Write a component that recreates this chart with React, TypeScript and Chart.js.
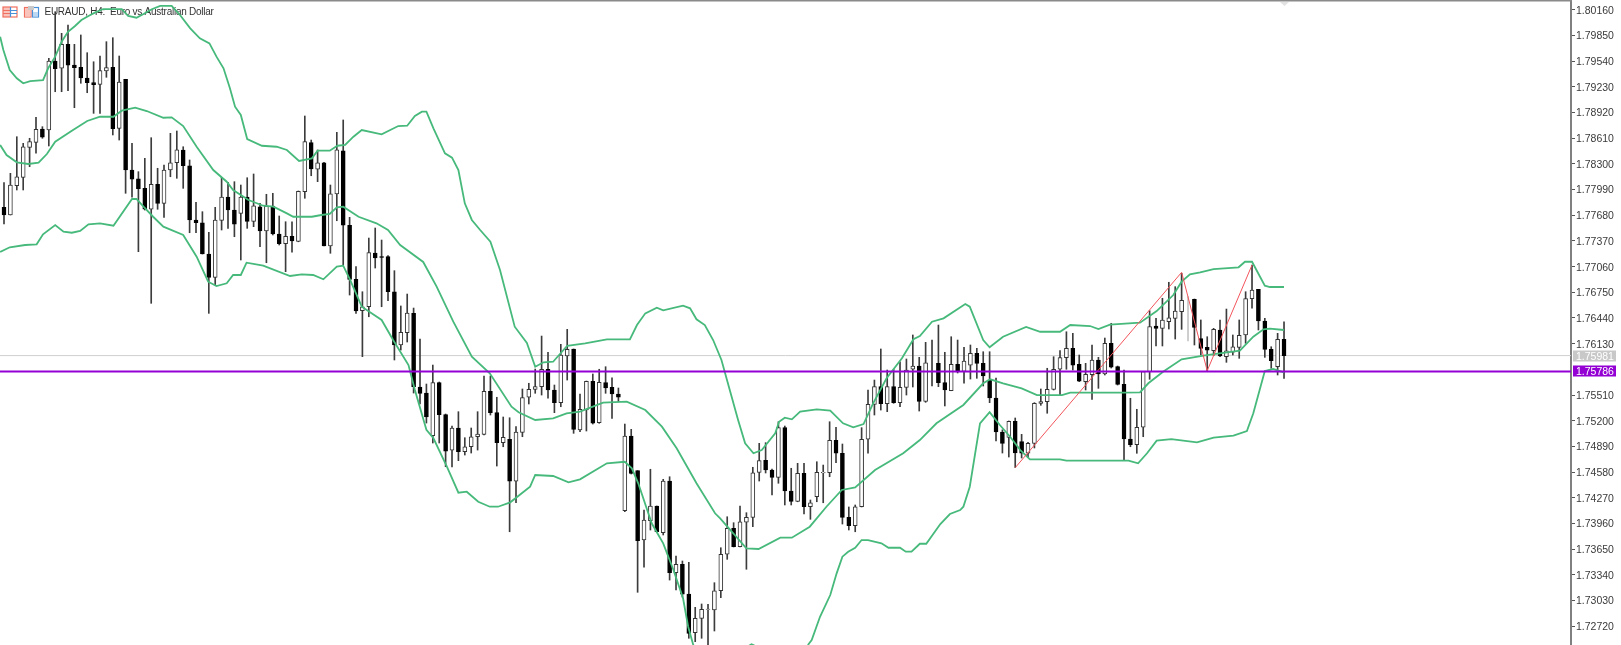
import React, { useEffect, useRef } from "react";
import { Chart, registerables } from "chart.js";

Chart.register(...registerables);

const opens = [1.77776,1.77683,1.78037,1.78138,1.785,1.7856,1.78721,1.78709,1.79542,1.79454,1.79743,1.79493,1.79466,1.79337,1.7928,1.7926,1.79421,1.79466,1.78729,1.79321,1.78226,1.78121,1.78005,1.77752,1.78054,1.77824,1.78226,1.78314,1.78468,1.78278,1.77623,1.7759,1.77212,1.76931,1.77619,1.779,1.77743,1.77703,1.779,1.77607,1.77783,1.7749,1.77792,1.77454,1.77337,1.77426,1.77365,1.77964,1.78556,1.78235,1.78314,1.77309,1.77936,1.78459,1.77559,1.76907,1.76528,1.76576,1.77224,1.7718,1.7718,1.76757,1.76114,1.76262,1.76496,1.75607,1.75534,1.75019,1.75659,1.75273,1.74846,1.75112,1.74826,1.74886,1.75007,1.75036,1.75555,1.75297,1.74935,1.74976,1.74469,1.7506,1.75483,1.75579,1.75611,1.75821,1.75571,1.75418,1.75981,1.76066,1.75088,1.75329,1.75676,1.75176,1.75659,1.75603,1.75522,1.74114,1.75015,1.74597,1.7376,1.73993,1.74171,1.73848,1.74472,1.73366,1.73467,1.73108,1.72641,1.72815,1.72921,1.72915,1.73148,1.73588,1.73901,1.73679,1.73977,1.74034,1.74575,1.74722,1.74605,1.74517,1.75116,1.74352,1.74227,1.74565,1.74162,1.74283,1.74569,1.74572,1.74964,1.74807,1.74034,1.73933,1.74162,1.74976,1.75398,1.75611,1.75405,1.75611,1.75418,1.75603,1.75821,1.7586,1.75434,1.759,1.75893,1.75659,1.75562,1.75881,1.75796,1.75872,1.76014,1.75893,1.75691,1.75474,1.75064,1.74997,1.75193,1.74947,1.74807,1.74927,1.75408,1.7543,1.75577,1.75821,1.75961,1.76074,1.75881,1.75671,1.75756,1.75933,1.75764,1.76134,1.75852,1.75639,1.74979,1.7491,1.75121,1.75792,1.76343,1.76315,1.76395,1.76436,1.76516,1.7641,1.76665,1.7619,1.76086,1.76045,1.76295,1.75973,1.76026,1.76086,1.76235,1.76673,1.76786,1.76404,1.76062,1.75852,1.76183];
const highs = [1.78073,1.78186,1.78628,1.78548,1.78609,1.78862,1.78749,1.79574,1.80137,1.79876,1.79976,1.79743,1.79856,1.79642,1.79533,1.79602,1.79775,1.79823,1.79602,1.79321,1.78548,1.78206,1.78367,1.78616,1.78247,1.78286,1.78669,1.78697,1.78507,1.78347,1.77836,1.77723,1.77474,1.77776,1.78138,1.78078,1.78085,1.78045,1.78133,1.78178,1.77824,1.77933,1.77945,1.77671,1.77602,1.77602,1.77973,1.78878,1.78588,1.78468,1.78319,1.78045,1.78681,1.7883,1.77655,1.77059,1.76757,1.77405,1.77526,1.77381,1.77194,1.77011,1.76585,1.76729,1.7656,1.76186,1.75643,1.75872,1.75667,1.75281,1.75136,1.75309,1.74995,1.75112,1.75309,1.7574,1.7574,1.75483,1.75245,1.75236,1.75128,1.75583,1.75652,1.75824,1.76222,1.76026,1.75631,1.76122,1.76303,1.76066,1.75522,1.75679,1.75764,1.75821,1.75852,1.75719,1.75595,1.7516,1.75096,1.74597,1.74122,1.74614,1.74171,1.74493,1.74524,1.73567,1.73507,1.73491,1.72948,1.72988,1.72984,1.73245,1.73667,1.74041,1.73969,1.74171,1.7409,1.74638,1.74927,1.74935,1.74617,1.75188,1.75136,1.74626,1.74686,1.74686,1.74243,1.74705,1.74665,1.75188,1.7512,1.74919,1.74159,1.74183,1.75116,1.75571,1.75691,1.76066,1.75812,1.75821,1.75912,1.75945,1.76235,1.75965,1.76146,1.76174,1.76355,1.76026,1.76214,1.76174,1.76086,1.76114,1.76074,1.76033,1.76033,1.75716,1.7509,1.75197,1.75233,1.75036,1.74939,1.75418,1.75583,1.75833,1.75973,1.76047,1.76274,1.76255,1.75993,1.75893,1.76114,1.75965,1.76198,1.76376,1.7586,1.75812,1.75471,1.75338,1.75794,1.76528,1.76436,1.76678,1.76871,1.76818,1.76979,1.76697,1.76669,1.76416,1.76214,1.76315,1.76416,1.76548,1.76235,1.76416,1.76757,1.77079,1.76786,1.76436,1.76093,1.76255,1.76395];
const lows = [1.77574,1.77683,1.77985,1.77985,1.78266,1.78428,1.78609,1.78516,1.79171,1.79171,1.79183,1.78978,1.79273,1.79159,1.7891,1.7891,1.79345,1.78649,1.78588,1.77945,1.77897,1.7724,1.77743,1.76617,1.77752,1.77655,1.78145,1.78126,1.78005,1.77469,1.77469,1.77212,1.76496,1.76838,1.77502,1.77522,1.77421,1.7714,1.77522,1.77542,1.773,1.77107,1.77442,1.77321,1.76999,1.77233,1.7736,1.77885,1.78157,1.78085,1.77309,1.77221,1.77614,1.77079,1.76717,1.76496,1.75973,1.76455,1.77043,1.76576,1.76649,1.75933,1.76053,1.7615,1.75534,1.75402,1.75172,1.74931,1.74931,1.74645,1.74641,1.74718,1.74786,1.7481,1.74846,1.75028,1.75269,1.74653,1.74886,1.7386,1.7421,1.75007,1.75402,1.75531,1.7551,1.75471,1.75297,1.75369,1.75691,1.75048,1.75068,1.75076,1.7516,1.75169,1.75531,1.75229,1.7543,1.74102,1.74557,1.73129,1.73431,1.73881,1.7386,1.73821,1.73277,1.73157,1.73072,1.72574,1.72533,1.72574,1.72432,1.72662,1.73064,1.73527,1.73676,1.73676,1.73407,1.73921,1.74472,1.74569,1.74303,1.74445,1.74183,1.74183,1.74222,1.74074,1.7401,1.74222,1.7421,1.74524,1.74693,1.73953,1.73881,1.7386,1.74159,1.74807,1.75269,1.75329,1.75309,1.7541,1.75369,1.7551,1.75607,1.75317,1.75422,1.75619,1.75611,1.75378,1.75562,1.75776,1.75652,1.75703,1.75712,1.75619,1.75418,1.74955,1.7481,1.74762,1.74635,1.7475,1.74758,1.74871,1.75386,1.7529,1.75571,1.7551,1.75821,1.75812,1.75671,1.75571,1.75458,1.75591,1.75752,1.75836,1.75631,1.74726,1.74886,1.74807,1.75007,1.757,1.76102,1.76102,1.76307,1.76186,1.76303,1.76162,1.76114,1.75993,1.75804,1.75985,1.75973,1.75905,1.75993,1.75953,1.76134,1.76557,1.76295,1.75965,1.75833,1.75752,1.75712];
const closes = [1.77683,1.78045,1.78145,1.78507,1.78568,1.78717,1.78621,1.79542,1.79449,1.79743,1.7949,1.79461,1.79337,1.7928,1.79256,1.79425,1.79461,1.78725,1.79288,1.78226,1.78117,1.78,1.77752,1.78054,1.77824,1.78226,1.78314,1.78471,1.78278,1.77623,1.7759,1.77212,1.76931,1.77623,1.779,1.77743,1.77571,1.779,1.77607,1.77795,1.7749,1.77792,1.77454,1.77337,1.77426,1.77369,1.77969,1.78568,1.78238,1.78314,1.77309,1.7794,1.78471,1.77559,1.76907,1.76524,1.76576,1.77228,1.77164,1.7717,1.76757,1.76114,1.76267,1.765,1.75611,1.75531,1.75245,1.75659,1.75273,1.74834,1.75112,1.74826,1.74886,1.75007,1.7504,1.75555,1.75297,1.74935,1.75,1.74469,1.75064,1.75478,1.75579,1.75611,1.75821,1.75571,1.75418,1.75993,1.76062,1.75096,1.75338,1.75676,1.75169,1.75664,1.75595,1.75522,1.75483,1.75015,1.74565,1.73752,1.74002,1.74171,1.7386,1.74472,1.73366,1.73467,1.73108,1.72634,1.72815,1.72924,1.72927,1.73148,1.73588,1.73901,1.73679,1.73981,1.74034,1.74572,1.7472,1.74605,1.74517,1.75116,1.74352,1.74227,1.74565,1.74162,1.7421,1.74577,1.74577,1.74964,1.74807,1.74034,1.73933,1.74162,1.74976,1.75398,1.75611,1.75405,1.75611,1.75418,1.75603,1.75812,1.7586,1.75434,1.759,1.759,1.75659,1.75571,1.75881,1.75796,1.75921,1.76014,1.75893,1.7574,1.75474,1.75064,1.74927,1.75193,1.7481,1.74807,1.74927,1.7541,1.75432,1.7558,1.75821,1.75961,1.76074,1.75872,1.75676,1.7576,1.75933,1.75764,1.76134,1.75845,1.75639,1.74979,1.7491,1.75121,1.75792,1.76335,1.76315,1.76416,1.76443,1.76524,1.76653,1.7641,1.76327,1.76074,1.76053,1.76303,1.75981,1.76045,1.76093,1.76231,1.76673,1.76778,1.76404,1.76062,1.75924,1.76183,1.75985];

const upperAt = [-0.6,-0.1,0.9,2,3,4.1,6.1,6.9,8,9,10,11.1,12.1,13.2,14.2,15.5,18.4,19.4,20.7,21.8,23.1,24.4,26.2,27.5,29.1,30.6,32.1,33.2,34.3,35.3,36.1,37,38,40.3,42.6,44.2,46.1,48.1,49,50.9,52.1,53.3,54.6,55.9,59,61.6,63,64.2,65.3,66,67.1,68.9,70,71,72,73.1,74.4,76,77.5,79.8,81.7,83,84.3,85.8,88,90.8,94.2,97.8,98.9,100.2,102,103,106.1,107.2,108.2,109.5,110.8,112.1,113.4,114.7,115.8,117.1,118.4,120.5,121.1,122,123.1,124.4,127,129.1,131.1,132.7,134.3,135.8,137.9,140.3,142.1,143.1,145,146.8,150.2,150.9,153,154,156.1,159.7,161.9,165,166.6,169.7,171,172.8,177.5,180.1,182.7,184,185.3,186.9,189,192.9,193.9,195,197,197.8,200];
const upperBand = [1.79835,1.79674,1.79433,1.79333,1.79273,1.793,1.79312,1.79454,1.79594,1.79775,1.79895,1.79964,1.80037,1.80085,1.80125,1.80169,1.80169,1.80085,1.80064,1.80109,1.80166,1.80206,1.80206,1.80097,1.79936,1.79816,1.79755,1.79594,1.79454,1.79212,1.7899,1.7889,1.786,1.78519,1.78507,1.78468,1.78335,1.78367,1.78459,1.78459,1.78519,1.78528,1.78628,1.78709,1.78657,1.78757,1.78761,1.78878,1.7893,1.7893,1.78729,1.78428,1.78375,1.78226,1.77824,1.77623,1.77502,1.77361,1.77019,1.76335,1.76138,1.75852,1.75905,1.75912,1.76105,1.76134,1.76183,1.76183,1.76355,1.76496,1.76564,1.76533,1.76588,1.76557,1.76424,1.76355,1.76174,1.75933,1.75571,1.75209,1.74927,1.74807,1.74846,1.75048,1.75188,1.75236,1.75217,1.75309,1.75338,1.75321,1.75169,1.7512,1.7516,1.7541,1.75712,1.75953,1.76183,1.76222,1.76395,1.76436,1.76609,1.76576,1.76174,1.76086,1.76214,1.76331,1.76274,1.76274,1.76355,1.76343,1.76307,1.76359,1.76383,1.76524,1.76717,1.76878,1.76967,1.76991,1.77031,1.77052,1.77119,1.77119,1.7683,1.76814,1.76814];

const middleAt = [-0.6,0.4,2,3.8,5.4,6.7,8,10.6,13,15,17.1,18.4,20.5,22.3,24.9,26.2,28,30.1,32.7,34.8,35.8,38.2,40.5,42.1,44.2,45.2,48.1,49.6,50.9,52,53,55.4,58.2,60,61.9,65.5,67.6,70.2,73.1,75.9,79.3,80.4,83,85.8,87.9,90,93.6,97.3,100.2,102.8,105.1,108.2,111.1,111.9,116,117.9,121.3,123.1,125.9,128.5,130.9,133,136.1,140.5,143.1,145.7,149.9,153,154.1,156.1,159,161.4,165.3,166.6,174.8,177.5,178.8,181.1,184,187.9,193.1,195.2,196.8,197.8,200];
const middleBand = [1.78528,1.78407,1.78319,1.78299,1.78314,1.78419,1.78568,1.787,1.78818,1.78869,1.78869,1.78942,1.78978,1.78938,1.78857,1.78862,1.78757,1.78507,1.78226,1.78085,1.77985,1.77864,1.77795,1.77783,1.77703,1.77662,1.77662,1.77683,1.77695,1.77776,1.77783,1.77662,1.77583,1.77502,1.77321,1.77116,1.76818,1.76395,1.75973,1.75772,1.75369,1.75302,1.75209,1.75229,1.75289,1.75309,1.75418,1.7543,1.75329,1.75128,1.74867,1.74445,1.74083,1.74022,1.7366,1.73652,1.73788,1.73788,1.73921,1.74162,1.74364,1.74396,1.74605,1.74807,1.74967,1.75169,1.7539,1.75652,1.757,1.75652,1.75591,1.7551,1.7551,1.75538,1.75538,1.75543,1.75652,1.75792,1.75941,1.75993,1.76045,1.76214,1.76303,1.76311,1.76295];

const lowerAt = [-0.6,0.9,3.3,5.1,6.1,8,9.3,10.6,11.9,13.2,15,17.1,20,20.7,21.8,23.3,24.9,28,30.1,31.9,33.2,34.8,35.8,37,37.9,40.5,44.7,46.5,48.3,49.9,52,53,54.1,55.9,59,60.8,63.2,64.2,66,67.1,69.2,71,72.3,74.1,75.9,77.2,79.1,82.2,83,85.8,88.2,90,94.2,97,98.1,99.1,101.2,103,104.6,106.1,106.9,107.7,109.5,111.9,114.2,115.8,116.8,118.1,120.5,122.8,125.2,125.7,126.2,127.5,129.1,130.1,131,131.9,133,134,135,137.1,138.2,140,140.9,141.8,143.1,144.1,146.3,147.8,149.4,149.9,150.9,152.5,154,155.6,157.2,158.8,160.3,165,166,175.7,177.2,178.6,180.1,182.4,186.4,189,192.1,194.2,195.2,197,198.3,200];
const lowerBand = [1.77236,1.77293,1.77321,1.77329,1.7745,1.77562,1.77481,1.77469,1.7749,1.77571,1.77583,1.77554,1.77876,1.77876,1.77783,1.77662,1.77542,1.77442,1.7718,1.76878,1.76826,1.76859,1.76959,1.76959,1.77107,1.77071,1.76947,1.76967,1.76959,1.76907,1.77059,1.77071,1.76898,1.76576,1.76416,1.76174,1.75872,1.75571,1.7509,1.74988,1.74645,1.74331,1.74343,1.74222,1.74162,1.74162,1.74215,1.74404,1.74545,1.74533,1.74457,1.74493,1.74686,1.74705,1.74625,1.74445,1.73962,1.7372,1.73398,1.73057,1.72714,1.72493,1.72215,1.72095,1.72312,1.72457,1.72501,1.72457,1.72251,1.72251,1.72432,1.72501,1.72553,1.72834,1.73096,1.73358,1.73559,1.73619,1.73667,1.7376,1.7376,1.7372,1.73667,1.73667,1.73619,1.73619,1.73715,1.73715,1.73953,1.74074,1.74122,1.74162,1.74404,1.75169,1.75302,1.75148,1.75007,1.74846,1.74734,1.74734,1.74718,1.74718,1.74686,1.74807,1.74959,1.74979,1.74939,1.74995,1.75019,1.75076,1.7529,1.758,1.75824,1.75784];

const zigzagAt = [158, 184, 188, 195];
const zigzagPrice = [1.74633, 1.76991, 1.75804, 1.77079];

const bidLevel = 1.75986;
const bidLabel = "1.75981";
const markedLevel = 1.75795;
const markedLabel = "1.75786";
const fadedCandles = [185];
const yTicks = [1.8016,1.7985,1.7954,1.7923,1.7892,1.7861,1.783,1.7799,1.7768,1.7737,1.7706,1.7675,1.7644,1.7613,1.7551,1.752,1.7489,1.7458,1.7427,1.7396,1.7365,1.7334,1.7303,1.7272];
const headerText = "EURAUD, H4:  Euro vs Australian Dollar";

const X_MIN = -0.625;
const X_MAX = 244.84;
const Y_MIN = 1.72493;
const Y_MAX = 1.80266;
const GREEN = "#46b97b";
const VIOLET = "#9400d3";
const AXIS_FONT = "10.5px 'Liberation Sans', sans-serif";

const zipPts = (xs: number[], ys: number[]) => xs.map((x, i) => ({ x, y: ys[i] }));

const chromePlugin = {
  id: "chrome",
  beforeDatasetsDraw(chart: any) {
    const c = chart.ctx;
    c.save();
    c.fillStyle = "#8a8a8a";
    c.fillRect(0, 0, chart.chartArea.right + 1, 1.5);
    c.fillStyle = "#e2e2e2";
    c.beginPath();
    c.moveTo(1280, 2);
    c.lineTo(1289, 2);
    c.lineTo(1284.5, 6);
    c.closePath();
    c.fill();
    // table icon
    c.lineWidth = 1.2;
    c.strokeStyle = "#f0705f";
    c.fillStyle = "#f9c4bc";
    c.fillRect(3, 7, 8, 10);
    c.strokeRect(3, 7, 14, 10);
    c.beginPath();
    for (const y of [10.5, 13.5]) { c.moveTo(3, y); c.lineTo(10, y); }
    c.stroke();
    c.strokeStyle = "#4a90d9";
    c.beginPath();
    c.moveTo(10.5, 7); c.lineTo(10.5, 17);
    for (const y of [10.5, 13.5]) { c.moveTo(10.5, y); c.lineTo(17, y); }
    c.stroke();
    // terminal icon
    c.strokeStyle = "#f0705f";
    c.strokeRect(24.5, 7.5, 6.5, 9.5);
    c.strokeStyle = "#4a90d9";
    c.strokeRect(32.5, 7.5, 6, 9.5);
    c.fillStyle = "#f9c4bc";
    c.fillRect(25, 8, 5.5, 8.5);
    c.fillStyle = "#bcd8f2";
    c.fillRect(33, 12, 5, 4.5);
    c.fillStyle = "#c9c9c9";
    c.fillRect(28, 6, 6, 4);
    // header
    c.fillStyle = "#333";
    c.font = "10px 'Liberation Sans', sans-serif";
    (c as any).letterSpacing = "-0.26px";
    c.textBaseline = "middle";
    c.textAlign = "left";
    c.fillText(headerText, 44.5, 12.5);
    (c as any).letterSpacing = "0px";
    c.restore();
  },
  afterDraw(chart: any) {
    const c = chart.ctx;
    const s = chart.scales.y;
    const tag = (v: number, text: string, bg: string) => {
      const y = s.getPixelForValue(v);
      c.fillStyle = bg;
      c.fillRect(1573, Math.round(y) - 5.5, 43, 11);
      c.fillStyle = "#fff";
      c.font = AXIS_FONT;
      c.textBaseline = "middle";
      c.textAlign = "left";
      c.fillText(text, 1576, Math.round(y) + 1);
    };
    c.save();
    tag(bidLevel, bidLabel, "#c8c8c8");
    tag(markedLevel, markedLabel, VIOLET);
    c.restore();
  },
};

export default function App() {
  const ref = useRef<HTMLCanvasElement>(null);
  useEffect(() => {
    const candleIdx = opens.map((_, i) => i);
    const hLine = (v: number) => [{ x: X_MIN, y: v }, { x: X_MAX, y: v }];
    const bandSet = (xs: number[], ys: number[]) => ({
      type: "line",
      data: zipPts(xs, ys),
      borderColor: GREEN,
      borderWidth: 1.8,
      pointRadius: 0,
      tension: 0,
      order: 3,
    });
    const chart = new Chart(ref.current as HTMLCanvasElement, {
      type: "bar",
      data: {
        datasets: [
          {
            type: "bar",
            data: candleIdx.map(i => ({ x: i, y: [lows[i], highs[i]] })),
            backgroundColor: candleIdx.map(i => (fadedCandles.includes(i) ? "#c4c4c4" : "#3c3c3c")),
            barThickness: 1,
            grouped: false,
            order: 6,
          },
          {
            type: "bar",
            data: candleIdx.map(i => ({ x: i, y: [opens[i], closes[i]] })),
            backgroundColor: candleIdx.map(i => (closes[i] >= opens[i] ? "#fff" : "#000")),
            borderColor: candleIdx.map(i => (closes[i] >= opens[i] ? "#333" : "#000")),
            borderWidth: 1,
            borderSkipped: false,
            barThickness: 4,
            grouped: false,
            order: 5,
          },
          {
            type: "line",
            data: hLine(bidLevel),
            borderColor: "#cfcfcf",
            borderWidth: 1,
            pointRadius: 0,
            order: 7,
          },
          bandSet(upperAt, upperBand),
          bandSet(middleAt, middleBand),
          bandSet(lowerAt, lowerBand),
          {
            type: "line",
            data: zipPts(zigzagAt, zigzagPrice),
            borderColor: "#f2545b",
            borderWidth: 1,
            pointRadius: 0,
            tension: 0,
            order: 2,
          },
          {
            type: "line",
            data: hLine(markedLevel),
            borderColor: VIOLET,
            borderWidth: 2,
            pointRadius: 0,
            order: 1,
          },
        ],
      } as any,
      options: {
        animation: false,
        responsive: false,
        devicePixelRatio: 1,
        layout: { padding: { top: 1, left: 0, right: 0, bottom: 0 } },
        plugins: { legend: { display: false }, tooltip: { enabled: false } },
        scales: {
          x: {
            type: "linear",
            display: false,
            offset: false,
            min: X_MIN,
            max: X_MAX,
            grid: { display: false, offset: false },
          },
          y: {
            type: "linear",
            position: "right",
            min: Y_MIN,
            max: Y_MAX,
            afterBuildTicks(scale: any) {
              scale.ticks = yTicks.map(value => ({ value }));
            },
            afterFit(scale: any) {
              scale.width = 50;
              scale.paddingTop = 0;
              scale.paddingBottom = 0;
            },
            grid: { drawOnChartArea: false, drawTicks: true, tickLength: 4, tickColor: "#555", tickWidth: 1 },
            border: { display: true, color: "#808080", width: 2 },
            ticks: {
              autoSkip: false,
              padding: 1,
              color: "#3a3a3a",
              font: { family: "'Liberation Sans', sans-serif", size: 10.5, lineHeight: "2px" },
              callback: (v: any) => ["", Number(v).toFixed(5)],
            },
          },
        },
      } as any,
      plugins: [chromePlugin],
    } as any);
    return () => chart.destroy();
  }, []);
  return (
    <div style={{ position: "fixed", left: 0, top: 0, width: 1621, height: 645, background: "#fff" }}>
      <canvas ref={ref} width={1621} height={645} style={{ display: "block" }} />
    </div>
  );
}
